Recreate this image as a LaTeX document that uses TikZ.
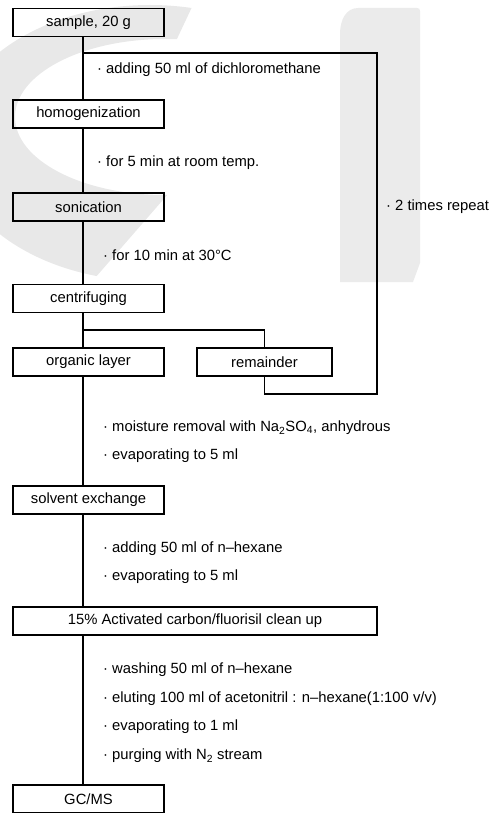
\documentclass[tikz,border=0pt]{standalone}
\usepackage{fontspec}
\setmainfont{Liberation Sans}
\begin{document}
\begin{tikzpicture}[x=1pt,y=-1pt,
  box/.style={draw, line width=1.5pt, minimum height=28pt, inner sep=0pt, font=\fontsize{14.8}{17}\selectfont},
  lbl/.style={anchor=west, inner sep=0pt, font=\fontsize{14.8}{17}\selectfont},
  ln/.style={line width=1.2pt},
  wm/.style={fill=black!9}]
\useasboundingbox (0,0) rectangle (497,813);
% watermark
\begin{scope}
  \clip (-10,-10) -- (200,-10) -- (168,58) -- (170,150) -- (182,178) -- (95,278) -- (-10,290) -- cycle;
  \fill[wm, even odd rule] (150,143) ellipse [x radius=200pt, y radius=138pt]
                           (165,117) ellipse [x radius=150pt, y radius=78pt];
\end{scope}
\fill[wm, fill=black!8] (340,282) -- (340,34) .. controls (340,20) and (346,8) .. (358,8) -- (417,8) .. controls (419,8) and (420,9) .. (420,11) -- (420,263) -- (413,282) -- cycle;
% boxes
\node[box, minimum width=151pt] (sample) at (88.5,22.5) {sample, 20 g};
\node[box, minimum width=151pt] (homog) at (88.5,114) {homogenization};
\node[box, minimum width=151pt] (sonic) at (88.5,207) {sonication};
\node[box, minimum width=151pt] (centri) at (88.5,298.5) {centrifuging};
\node[box, minimum width=151pt] (organic) at (88.5,362) {organic layer};
\node[box, minimum width=135pt] (remain) at (264.5,362) {remainder};
\node[box, minimum width=151pt] (solvent) at (88.5,500) {solvent exchange};
\node[box, minimum width=364pt] (carbon) at (195,621) {15\% Activated carbon/fluorisil clean up};
\node[box, minimum width=151pt] (gcms) at (88.5,799) {GC/MS};
% spine
\coordinate (sp) at (83,0);
\coordinate (loopTL) at (377,53);
\coordinate (loopBR) at (377,394);
\coordinate (br) at (83,330);
\draw[ln] (sample.south -| sp) -- (homog.north -| sp);
\draw[ln] (homog.south -| sp) -- (sonic.north -| sp);
\draw[ln] (sonic.south -| sp) -- (centri.north -| sp);
\draw[ln] (centri.south -| sp) -- (organic.north -| sp);
\draw[ln] (organic.south -| sp) -- (solvent.north -| sp);
\draw[ln] (solvent.south -| sp) -- (carbon.north -| sp);
\draw[ln] (carbon.south -| sp) -- (gcms.north -| sp);
\draw[ln] (sp |- loopTL) -- (loopTL) -- (loopBR) -- (remain.south |- loopBR) -- (remain.south);
\draw[ln] (br) -| (remain.north);
% labels
\node[lbl] (l1) at (97,70) {· adding 50 ml of dichloromethane};
\node[lbl] (l2) at (97,163) {· for 5 min at room temp.};
\node[lbl] (l3) at (103,255) {· for 10 min at 30°C};
\node[lbl] (l4) at (386,207) {· 2 times repeat};
\node[lbl] (l5) at (103,428) {· moisture removal with Na\textsubscript{2}SO\textsubscript{4}, anhydrous};
\node[lbl] (l6) at (103,456) {· evaporating to 5 ml};
\node[lbl] (l7) at (103,549) {· adding 50 ml of n–hexane};
\node[lbl] (l8) at (103,577) {· evaporating to 5 ml};
\node[lbl] (l9) at (103,670) {· washing 50 ml of n–hexane};
\node[lbl] (l10) at (103,699) {· eluting 100 ml of acetonitril : n–hexane(1:100 v/v)};
\node[lbl] (l11) at (103,727) {· evaporating to 1 ml};
\node[lbl] (l12) at (103,756) {· purging with N\textsubscript{2} stream};
\end{tikzpicture}
\end{document}
